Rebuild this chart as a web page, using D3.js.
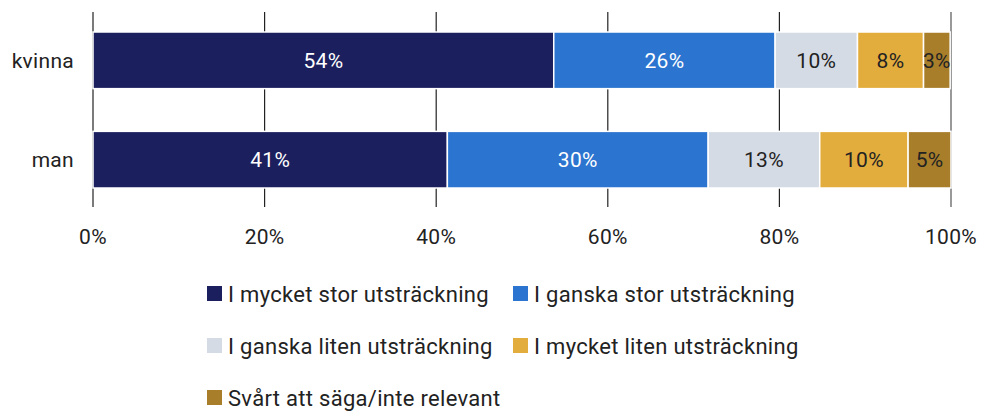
<!DOCTYPE html>
<html>
<head>
<meta charset="utf-8">
<script src="https://cdn.jsdelivr.net/npm/d3@7"></script>
<style>
  body { margin: 0; background: #fff; }
  text { font-family: "Roboto", "Open Sans", sans-serif; letter-spacing: 0.3px; }
</style>
</head>
<body>
<div id="chart"></div>
<script>
var groups = ["kvinna", "man"];
var series = ["I mycket stor utsträckning", "I ganska stor utsträckning", "I ganska liten utsträckning", "I mycket liten utsträckning", "Svårt att säga/inte relevant"];
var kvinnaValues = [53.7, 25.8, 9.6, 7.7, 3.1];
var manValues = [41.3, 30.4, 13.0, 10.3, 5.0];
var tickValues = [0, 20, 40, 60, 80, 100];
var colors = ["#1c1f5e", "#2b74cf", "#d5dbe5", "#e3ad3e", "#a87e2b"];
var labelColors = ["#fff", "#fff", "#222", "#222", "#222"];

var width = 981, height = 412;
var svg = d3.select("#chart").append("svg")
  .attr("width", width).attr("height", height);

var x = d3.scaleLinear().domain([0, 100]).range([93, 951]);
var y = d3.scaleBand().domain(groups).range([32, 188]).paddingInner(0.43).paddingOuter(0);

// grid lines
svg.append("g").selectAll("line").data(tickValues).enter().append("line")
  .attr("x1", function(d){ return x(d); }).attr("x2", function(d){ return x(d); })
  .attr("y1", 12).attr("y2", 207)
  .attr("stroke", function(d){ return d == 100 ? "#555" : "#222"; })
  .attr("stroke-width", 1.2);

// stacking
var rows = [kvinnaValues, manValues].map(function(vals, i){
  var obj = {group: groups[i]};
  series.forEach(function(s, j){ obj[s] = vals[j]; });
  return obj;
});
var stacked = d3.stack().keys(series)(rows);

var layer = svg.append("g").selectAll("g").data(stacked).enter().append("g")
  .attr("fill", function(d, i){ return colors[i]; });

layer.selectAll("rect").data(function(d){ return d; }).enter().append("rect")
  .attr("x", function(d){ return x(d[0]); })
  .attr("width", function(d){ return x(d[1]) - x(d[0]); })
  .attr("y", function(d){ return y(d.data.group); })
  .attr("height", y.bandwidth())
  .attr("stroke", "#fff").attr("stroke-width", 1.5);

stacked.forEach(function(s, i){
  svg.append("g").selectAll("text").data(s).enter().append("text")
    .attr("x", function(d){ return (x(d[0]) + x(d[1])) / 2; })
    .attr("y", function(d){ return y(d.data.group) + y.bandwidth() / 2; })
    .attr("dy", "0.35em")
    .attr("text-anchor", "middle")
    .attr("font-size", 21)
    .attr("fill", labelColors[i])
    .text(function(d){ return Math.round(d[1] - d[0]) + "%"; });
});

// category labels
svg.append("g").selectAll("text").data(groups).enter().append("text")
  .attr("x", 74)
  .attr("y", function(d){ return y(d) + y.bandwidth() / 2; })
  .attr("dy", "0.35em")
  .attr("text-anchor", "end")
  .attr("font-size", 21)
  .attr("fill", "#222")
  .text(function(d){ return d; });

// x tick labels
svg.append("g").selectAll("text").data(tickValues).enter().append("text")
  .attr("x", function(d){ return x(d); })
  .attr("y", 237)
  .attr("dy", "0.35em")
  .attr("text-anchor", "middle")
  .attr("font-size", 21)
  .attr("fill", "#222")
  .text(function(d){ return d + "%"; });

// legend
var legendPos = [[207, 294], [513, 294], [207, 346], [513, 346], [207, 398]];
var legend = svg.append("g").selectAll("g").data(series).enter().append("g")
  .attr("transform", function(d, i){ return "translate(" + legendPos[i][0] + "," + legendPos[i][1] + ")"; });
legend.append("rect")
  .attr("x", 0).attr("y", -8).attr("width", 15).attr("height", 15)
  .attr("fill", function(d, i){ return colors[i]; });
legend.append("text")
  .attr("x", 21).attr("y", 0).attr("dy", "0.35em")
  .attr("font-size", 22)
  .attr("fill", "#222")
  .text(function(d){ return d; });
</script>
</body>
</html>
